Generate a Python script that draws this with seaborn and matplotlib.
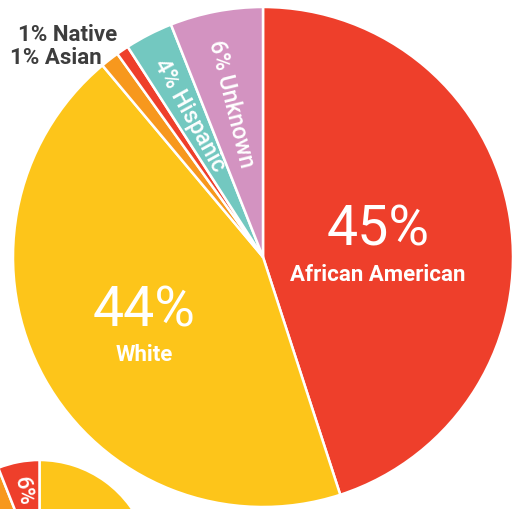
import matplotlib
matplotlib.use("Agg")
import matplotlib.pyplot as plt
import seaborn as sns

# ---- data ----
groups = ["African American", "White", "Asian", "Native", "Hispanic", "Unknown"]
shares = [45.0, 43.9, 1.2, 0.8, 3.1, 6.0]
pct_labels = ["45%", "44%", "1%", "1%", "4%", "6%"]
group_colors = ["#EE3F2B", "#FDC51A", "#F7981D", "#EE3F2B", "#73C8C0", "#D393C1"]

# second (cropped) pie at the bottom-left
groups_2 = ["White", "Other", "African American"]
shares_2 = [80.0, 14.0, 6.0]
pct_labels_2 = ["", "", "6%"]
colors_2 = ["#FDC51A", "#F7981D", "#EE3F2B"]

sns.set_theme(style="white")
plt.rcParams["font.family"] = ["Roboto", "DejaVu Sans"]

W, H = 513, 509
fig = plt.figure(figsize=(W / 100, H / 100), dpi=100)
ax = fig.add_axes([0, 0, 1, 1])

pal = sns.color_palette(group_colors)
pal2 = sns.color_palette(colors_2)

wedge_style = dict(edgecolor="white", linewidth=1.8)

ax.pie(shares, colors=pal, startangle=90, counterclock=False,
       center=(263, H - 257), radius=250, wedgeprops=wedge_style, frame=True)
ax.pie(shares_2, colors=pal2, startangle=90, counterclock=False,
       center=(39.5, H - 572), radius=112, wedgeprops=wedge_style, frame=True)

ax.set_xlim(0, W)
ax.set_ylim(0, H)
ax.set_aspect("auto")
ax.axis("off")

def Y(y):
    return H - y

# big labels
ax.text(378, Y(230), pct_labels[0], color="white", fontsize=40, fontweight="normal",
        ha="center", va="center")
ax.text(378, Y(275), groups[0], color="white", fontsize=16, fontweight="bold",
        ha="center", va="center")
ax.text(144, Y(311), pct_labels[1], color="white", fontsize=40, fontweight="normal",
        ha="center", va="center")
ax.text(144.5, Y(355), groups[1], color="white", fontsize=16, fontweight="bold",
        ha="center", va="center")

# rotated labels inside small slices
ax.text(231, Y(104), f"{pct_labels[5]} {groups[5]}", color="white", fontsize=16.5,
        fontweight="medium", ha="center", va="center", rotation=-76)
ax.text(189, Y(115), f"{pct_labels[4]} {groups[4]}", color="white", fontsize=16.5,
        fontweight="medium", ha="center", va="center", rotation=-61)

# outside labels
ax.text(18, Y(35), f"{pct_labels[3]} {groups[3]}", color="#3D3D3D", fontsize=16,
        fontweight="bold", ha="left", va="center")
ax.text(10, Y(58), f"{pct_labels[2]} {groups[2]}", color="#3D3D3D", fontsize=16,
        fontweight="bold", ha="left", va="center")

# second pie label
ax.text(23, Y(491), pct_labels_2[2], color="white", fontsize=16, fontweight="medium",
        ha="center", va="center", rotation=-80)

fig.savefig("out.png", dpi=100, facecolor="white")
